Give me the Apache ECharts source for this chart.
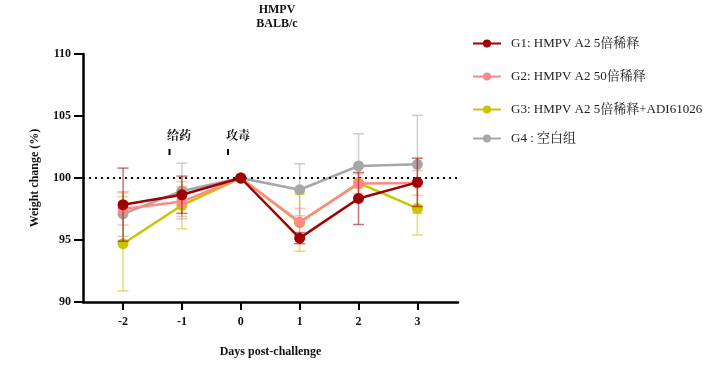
<!DOCTYPE html>
<html>
<head>
<meta charset="utf-8">
<script src="https://cdn.jsdelivr.net/npm/echarts@6/dist/echarts.min.js"></script>
<style>html,body{margin:0;padding:0;background:#fff}#c{width:725px;height:368px}</style>
</head>
<body>
<div id="c"></div>
<script>
var days = [-2, -1, 0, 1, 2, 3];
var yTicks = [90, 95, 100, 105, 110];
var names = ['G1: HMPV A2 5倍稀释', 'G2: HMPV A2 50倍稀释', 'G3: HMPV A2 5倍稀释+ADI61026', 'G4 : 空白组'];
var g1 = [97.85, 98.65, 100, 95.15, 98.35, 99.65];
var g1Err = [2.95, 1.5, 0, 0.45, 2.1, 1.95];
var g2 = [97.5, 98.1, 100, 96.45, 99.55, 99.6];
var g2Err = [1.3, 1.2, 0, 1.1, 0.8, 1.0];
var g3 = [94.7, 97.8, 100, 96.4, 99.6, 97.55];
var g3Err = [3.8, 1.9, 0, 2.3, 0.4, 2.15];
var g4 = [97.1, 98.95, 100, 99.05, 100.97, 101.1];
var g4Err = [1.8, 2.25, 0, 2.1, 2.6, 3.95];
var colors = ['#A00000', '#FF8A85', '#C8C400', '#A6A6A6'];

var FONT = '"Liberation Serif", "Noto Serif CJK SC", "Noto Sans CJK SC", serif';
var chart = echarts.init(document.getElementById('c'));

var groups = [[g1, g1Err], [g2, g2Err], [g3, g3Err], [g4, g4Err]];
var series = [];
var legendTops = [43, 76, 109, 138];
var legends = [];

// draw G4 first so G1 ends up on top
for (var gi = 3; gi >= 0; gi--) {
  (function (i) {
    var vals = groups[i][0], errs = groups[i][1];
    var errData = days.map(function (d, k) { return [d, vals[k] - errs[k], vals[k] + errs[k]]; });
    series.push({
      type: 'custom',
      name: names[i] + '_err',
      data: errData,
      z: 2 + (3 - i) * 2,
      silent: true,
      renderItem: function (params, api) {
        var x = api.value(0);
        var lo = api.coord([x, api.value(1)]);
        var hi = api.coord([x, api.value(2)]);
        var w = 5.5;
        var style = { stroke: colors[i], lineWidth: 1.5, opacity: 0.55 };
        return {
          type: 'group',
          children: [
            { type: 'line', shape: { x1: lo[0], y1: lo[1], x2: hi[0], y2: hi[1] }, style: style },
            { type: 'line', shape: { x1: lo[0] - w, y1: lo[1], x2: lo[0] + w, y2: lo[1] }, style: style },
            { type: 'line', shape: { x1: hi[0] - w, y1: hi[1], x2: hi[0] + w, y2: hi[1] }, style: style }
          ]
        };
      }
    });
    var s = {
      type: 'line',
      name: names[i],
      data: days.map(function (d, k) { return [d, vals[k]]; }),
      z: 3 + (3 - i) * 2,
      symbol: 'circle',
      symbolSize: 11,
      lineStyle: { color: colors[i], width: 2.5 },
      itemStyle: { color: colors[i] },
      emphasis: { disabled: true }
    };
    if (i === 3) {
      s.markLine = {
        silent: true,
        symbol: 'none',
        label: { show: false },
        lineStyle: { color: '#000', type: [2, 4], width: 2 },
        data: [{ yAxis: 100 }]
      };
    }
    series.push(s);
    legends.push({
      data: [names[i]],
      left: 467,
      top: legendTops[i] - 11,
      itemWidth: 28,
      itemHeight: 10,
      textStyle: { fontFamily: FONT, fontSize: 13, color: '#222', padding: [0, 0, 0, 5] },
      selectedMode: false
    });
  })(gi);
}

chart.setOption({
  animation: false,
  title: {
    text: 'HMPV\nBALB/c',
    left: 272,
    textAlign: 'center',
    top: -2,
    textStyle: { fontFamily: FONT, fontSize: 12, fontWeight: 'bold', color: '#111', lineHeight: 14 }
  },
  legend: legends,
  grid: { left: 83, right: 267, top: 54, bottom: 66 },
  xAxis: {
    type: 'value',
    min: -2.68,
    max: 3.69,
    name: 'Days post-challenge',
    nameLocation: 'middle',
    nameGap: 44,
    nameTextStyle: { fontFamily: FONT, fontSize: 12, fontWeight: 'bold', color: '#111' },
    splitLine: { show: false },
    axisLine: { onZero: false, lineStyle: { color: '#000', width: 2.5 } },
    axisTick: { show: true, customValues: days, length: 8, lineStyle: { color: '#000', width: 2 } },
    axisLabel: { customValues: days, margin: 14, fontFamily: FONT, fontSize: 12, fontWeight: 'bold', color: '#111' }
  },
  yAxis: {
    type: 'value',
    min: 90,
    max: 110,
    interval: 5,
    name: 'Weight change (%)',
    nameLocation: 'middle',
    nameGap: 42,
    nameTextStyle: { fontFamily: FONT, fontSize: 12, fontWeight: 'bold', color: '#111' },
    splitLine: { show: false },
    axisLine: { show: true, onZero: false, lineStyle: { color: '#000', width: 2.5 } },
    axisTick: { show: true, length: 9, lineStyle: { color: '#000', width: 2 } },
    axisLabel: { margin: 12, fontFamily: FONT, fontSize: 12, fontWeight: 'bold', color: '#111' }
  },
  graphic: [
    { type: 'text', left: 167, top: 131, style: { text: '给药', font: 'bold 12px ' + FONT, fill: '#111' } },
    { type: 'text', left: 226, top: 131, style: { text: '攻毒', font: 'bold 12px ' + FONT, fill: '#111' } },
    { type: 'rect', shape: { x: 168.5, y: 149, width: 2, height: 6 }, style: { fill: '#000' } },
    { type: 'rect', shape: { x: 227, y: 149, width: 2, height: 6 }, style: { fill: '#000' } }
  ],
  series: series
});
</script>
</body>
</html>
